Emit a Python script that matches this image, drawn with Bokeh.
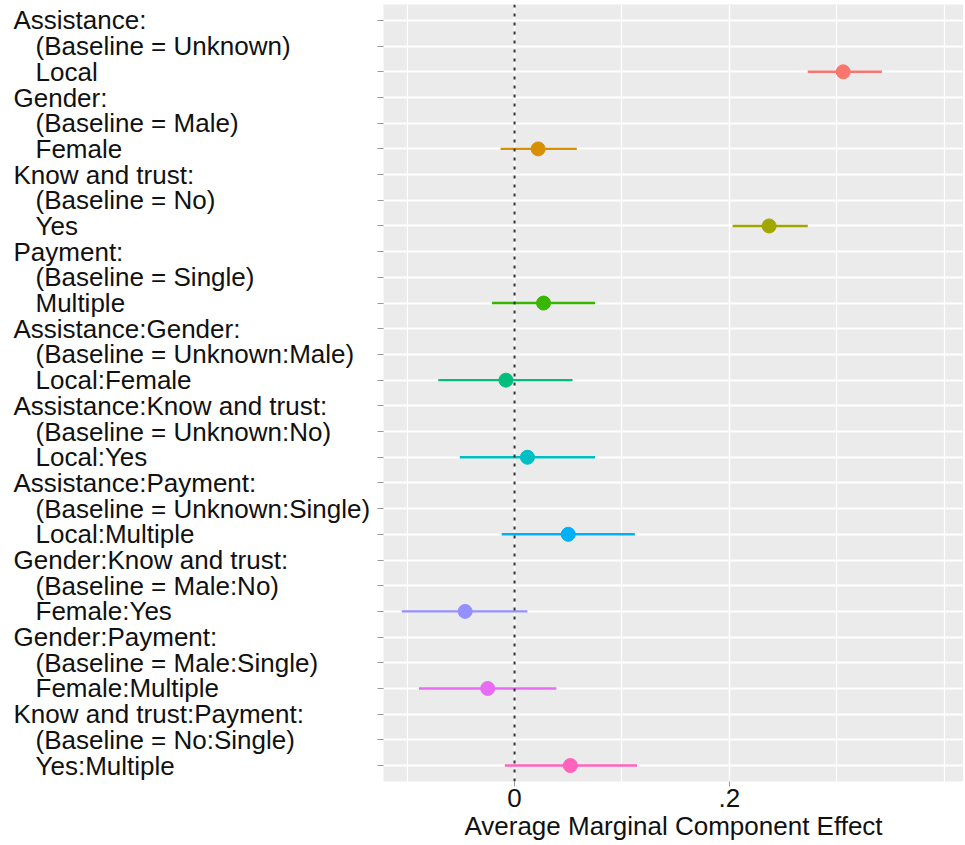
from bokeh.plotting import figure
from bokeh.layouts import row
from bokeh.models import FactorRange, Range1d, FixedTicker, Span, ColumnDataSource
from bokeh.embed import file_html
from bokeh.resources import INLINE
from bokeh.core.properties import value

# ---- data ----
groups = ["Assistance:", "Gender:", "Know and trust:", "Payment:",
          "Assistance:Gender:", "Assistance:Know and trust:", "Assistance:Payment:",
          "Gender:Know and trust:", "Gender:Payment:", "Know and trust:Payment:"]
baselines = ["(Baseline = Unknown)", "(Baseline = Male)", "(Baseline = No)",
             "(Baseline = Single)", "(Baseline = Unknown:Male)", "(Baseline = Unknown:No)",
             "(Baseline = Unknown:Single)", "(Baseline = Male:No)",
             "(Baseline = Male:Single)", "(Baseline = No:Single)"]
levels = ["Local", "Female", "Yes", "Multiple", "Local:Female", "Local:Yes",
          "Local:Multiple", "Female:Yes", "Female:Multiple", "Yes:Multiple"]
estimate = [0.306, 0.022, 0.237, 0.027, -0.008, 0.012, 0.050, -0.046, -0.025, 0.052]
lower = [0.273, -0.013, 0.203, -0.021, -0.071, -0.051, -0.012, -0.105, -0.089, -0.009]
upper = [0.342, 0.058, 0.273, 0.075, 0.054, 0.075, 0.112, 0.012, 0.039, 0.114]
colors = ["#F8766D", "#D89000", "#A3A500", "#39B600", "#00BF7D",
          "#00BFC4", "#00B0F6", "#9590FF", "#E76BF3", "#FF62BC"]
x_ticks = [0, 0.2]
x_tick_labels = ["0", ".2"]
x_minor = [-0.1, 0.1, 0.3, 0.4]
x_title = "Average Marginal Component Effect"

# ---- build row factors ----
rows, indent = [], []
for g, b, l in zip(groups, baselines, levels):
    rows += [g, b, l]
    indent += [0, 1, 1]

FONT = "Liberation Sans"
FS = "26px"
H = 843
TOP = 4
BOTTOM = 61
LEFT_W = 375
RIGHT_W = 588

yr = FactorRange(factors=rows[::-1], range_padding=0.12, range_padding_units="absolute")

# ---- left figure: labels ----
left = figure(width=LEFT_W, height=H, y_range=yr, x_range=Range1d(0, LEFT_W),
              output_backend="svg", toolbar_location=None,
              min_border_left=0, min_border_right=0, min_border_top=TOP,
              min_border_bottom=BOTTOM)
left.axis.visible = False
left.grid.visible = False
left.outline_line_color = None
left.background_fill_color = "white"
lab_src = ColumnDataSource(dict(
    x=[13 + 22 * i for i in indent], y=rows, t=rows))
left.text(x="x", y="y", text="t", source=lab_src, text_font=value(FONT),
          text_font_size=FS, text_baseline="middle", text_align="left",
          text_color="#111111")

# ---- right figure: estimates ----
p = figure(width=RIGHT_W, height=H, y_range=yr, x_range=Range1d(-0.122, 0.418),
           output_backend="svg", toolbar_location=None,
           min_border_left=8, min_border_right=0, min_border_top=TOP,
           min_border_bottom=BOTTOM)
p.background_fill_color = "#EBEBEB"
p.outline_line_color = None

p.xaxis.ticker = FixedTicker(ticks=x_ticks, minor_ticks=x_minor)
p.xaxis.major_label_overrides = {t: s for t, s in zip(x_ticks, x_tick_labels)}
p.xaxis.axis_label = x_title
p.xaxis.axis_label_text_font = FONT
p.xaxis.axis_label_text_font_size = FS
p.xaxis.axis_label_text_font_style = "normal"
p.xaxis.axis_label_text_color = "#111111"
p.xaxis.axis_label_standoff = 1
p.xaxis.major_label_text_font = FONT
p.xaxis.major_label_text_font_size = FS
p.xaxis.major_label_text_color = "#111111"
p.xaxis.major_label_standoff = 2
p.xaxis.axis_line_color = None
p.xaxis.major_tick_line_color = "#999999"
p.xaxis.major_tick_out = 5
p.xaxis.major_tick_in = 0
p.xaxis.minor_tick_line_color = None

p.yaxis.major_label_overrides = {r: "" for r in rows}
p.yaxis.major_label_text_color = None
p.yaxis.major_label_standoff = 0
p.yaxis.axis_line_color = None
p.yaxis.major_tick_line_color = "#999999"
p.yaxis.major_tick_out = 6
p.yaxis.major_tick_in = 0
p.yaxis.minor_tick_line_color = None

p.xgrid.grid_line_color = "white"
p.xgrid.grid_line_width = 1.4
p.xgrid.minor_grid_line_color = "white"
p.xgrid.minor_grid_line_width = 1.2
p.ygrid.grid_line_color = "white"
p.ygrid.grid_line_width = 2.2

zero = Span(location=0, dimension="height", line_color="#333333",
            line_width=2, line_dash="3 6")
p.add_layout(zero)

src = ColumnDataSource(dict(y=levels, est=estimate, lo=lower, hi=upper, c=colors))
p.segment(x0="lo", x1="hi", y0="y", y1="y", source=src, line_color="c", line_width=2.4)
p.scatter(x="est", y="y", source=src, size=14, fill_color="c", line_color="c")

layout = row(left, p)
open("out.html", "w").write(file_html(layout, INLINE))
